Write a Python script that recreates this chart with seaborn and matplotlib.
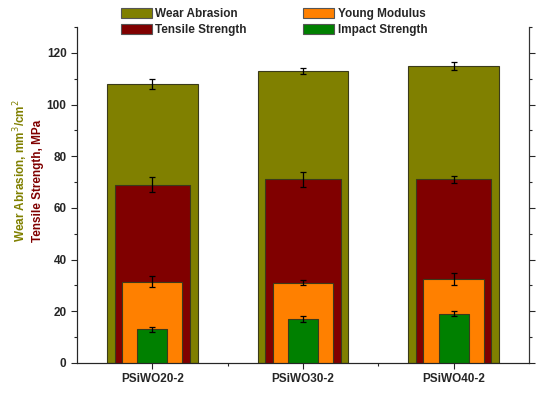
import numpy as np
import pandas as pd
import matplotlib
matplotlib.use("Agg")
import matplotlib.pyplot as plt
from matplotlib.patches import Patch
from matplotlib.ticker import MultipleLocator
import seaborn as sns

# Data
samples = ["PSiWO20-2", "PSiWO30-2", "PSiWO40-2"]
wear = [108, 113, 115]
wear_err = [2, 1, 1.5]
tensile = [69, 71, 71]
tensile_err = [3, 3, 1.5]
young = [31.5, 31, 32.5]
young_err = [2, 1, 2.5]
impact = [13, 17, 19]
impact_err = [1, 1, 1]

series = [
    ("Wear Abrasion", wear, wear_err, "#808000", 0.6),
    ("Tensile Strength", tensile, tensile_err, "#800000", 0.5),
    ("Young Modulus", young, young_err, "#FF8000", 0.4),
    ("Impact Strength", impact, impact_err, "#008000", 0.2),
]

sns.set_style("ticks")
plt.rcParams["font.family"] = ["Liberation Sans", "DejaVu Sans"]

fig = plt.figure(figsize=(5.37, 3.94), dpi=100)
ax = fig.add_axes([0.1434, 0.0787, 0.8416, 0.8528])

for i, (name, vals, errs, col, w) in enumerate(series):
    df = pd.DataFrame({"sample": samples, "value": vals})
    sns.barplot(data=df, x="sample", y="value", color=col, width=w,
                edgecolor="#3a3a1a", linewidth=0.8, saturation=1,
                errorbar=None, ax=ax, zorder=2 + i)
    ax.errorbar(np.arange(len(samples)), vals, yerr=errs, fmt="none",
                ecolor="black", elinewidth=0.9, capsize=2.5, capthick=0.9,
                zorder=2.5 + i)

ax.set_xlim(-0.5, 2.5)
ax.set_ylim(0, 130)
ax.yaxis.set_major_locator(MultipleLocator(20))
ax.yaxis.set_minor_locator(MultipleLocator(10))
ax.set_xticks([0, 1, 2])
ax.set_xticks([0.5, 1.5], minor=True)
ax.set_xticklabels(samples)
ax.set_xlabel("")
ax.set_ylabel("")
ax.spines["top"].set_visible(False)
for sp in ["left", "bottom", "right"]:
    ax.spines[sp].set_linewidth(0.8)
    ax.spines[sp].set_color("#333333")
ax.tick_params(axis="both", which="major", length=4, width=0.8, labelsize=8.5)
ax.tick_params(axis="both", which="minor", length=2.5, width=0.8)
for lbl in ax.get_xticklabels() + ax.get_yticklabels():
    lbl.set_fontweight("bold")

# right axis (labels clipped by the figure edge as in the reference)
ax2 = ax.twinx()
ax2.set_ylim(0, 13)
ax2.yaxis.set_major_locator(MultipleLocator(2))
ax2.yaxis.set_minor_locator(MultipleLocator(1))
ax2.spines["top"].set_visible(False)
ax2.spines["right"].set_linewidth(0.8)
ax2.spines["right"].set_color("#333333")
ax2.tick_params(axis="y", which="major", length=4, width=0.8, labelsize=8.5, pad=2)
ax2.tick_params(axis="y", which="minor", length=2.5, width=0.8)
for lbl in ax2.get_yticklabels():
    lbl.set_fontweight("bold")

# two-colour y label
fig.text(0.038, 0.386, "Wear Abrasion, mm$^3$/cm$^2$", rotation=90, color="#808000",
         fontsize=8.5, fontweight="bold", ha="center", va="bottom")
fig.text(0.070, 0.386, "Tensile Strength, MPa", rotation=90, color="#800000",
         fontsize=8.5, fontweight="bold", ha="center", va="bottom")

handles = [Patch(facecolor=c, edgecolor="#555555", linewidth=0.8, label=n)
           for n, _, _, c, _ in series]
fig.legend(handles=handles, loc="upper left", bbox_to_anchor=(0.21, 1.0),
           ncol=2, frameon=False, prop={"weight": "bold", "size": 8.5},
           handlelength=2.6, handleheight=0.95, columnspacing=4.8,
           handletextpad=0.3, labelspacing=0.3, borderaxespad=0.3)

fig.savefig("out.png", dpi=100)
